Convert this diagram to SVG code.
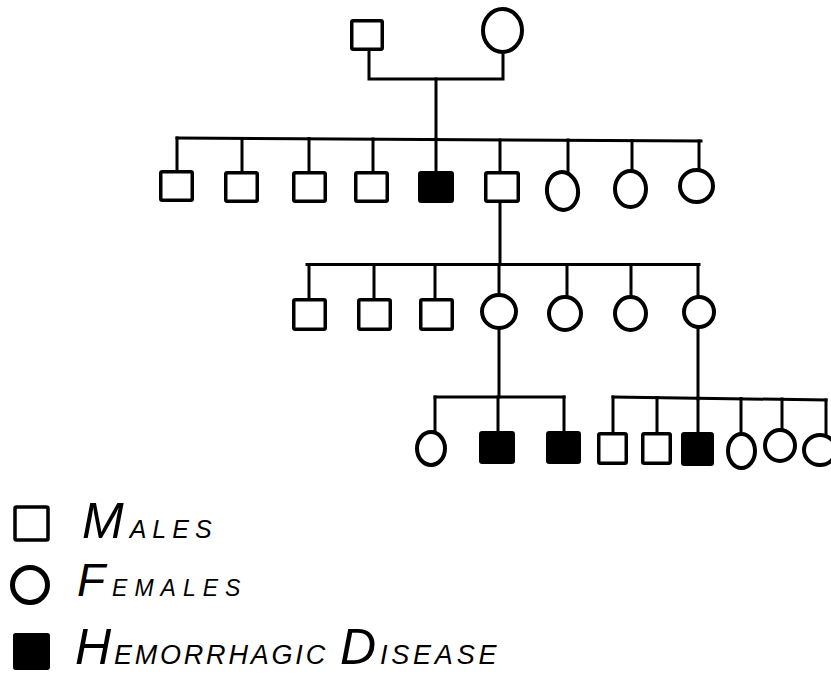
<svg xmlns="http://www.w3.org/2000/svg" width="831" height="675" viewBox="0 0 831 675">
<style>
.bg{fill:#fff}
.ln{fill:none;stroke:#000;stroke-width:3;stroke-linecap:square;stroke-linejoin:miter}
.m{fill:#fff;stroke:#000;stroke-width:3.5}
.a{fill:#000;stroke:#000;stroke-width:3.5}
.f{fill:#fff;stroke:#000;stroke-width:4}
.t{font-family:"Liberation Sans",Arial,sans-serif;font-style:italic;fill:#000}
</style>
<rect class="bg" x="0" y="0" width="831" height="675"/>
<g id="connectors">
<path class="ln" d="M369,51 V79 H503 V54"/>
<path class="ln" d="M436,79 V139"/>
<path class="ln" d="M177,138 L701,141"/>
<path class="ln" d="M177,138 V171 M242,138.5 V171 M309,138.5 V171 M373,139 V171 M436,139 V171 M500,140 V171 M568,140 V172 M632,140.5 V171 M699,141 V170"/>
<path class="ln" d="M500,203 V264"/>
<path class="ln" d="M307,264.5 H699"/>
<path class="ln" d="M309,264.5 V298 M374,264.5 V298 M435,264.5 V298 M499,264.5 V295 M567,264.5 V297 M631,264.5 V297 M698,264.5 V297"/>
<path class="ln" d="M499,330 V397 M698,329 V399"/>
<path class="ln" d="M435,397 H564"/>
<path class="ln" d="M435,397 V432 M498,397 V431 M564,397 V431"/>
<path class="ln" d="M613,397 L826,400"/>
<path class="ln" d="M613,397 V432 M657,397.5 V432 M698,398 V432 M741,398.5 V434 M782,399 V430 M826,400 V435"/>
</g>
<g id="I-1"><rect class="m" x="351.75" y="20.75" width="30.5" height="28.5" rx="1.5"/></g>
<g id="I-2"><ellipse class="f" cx="502.5" cy="30.5" rx="19.5" ry="21.5"/></g>
<g id="II-1"><rect class="m" x="160.75" y="171.75" width="31.5" height="28.5" rx="1.5"/></g>
<g id="II-2"><rect class="m" x="225.75" y="172.75" width="31.5" height="28.5" rx="1.5"/></g>
<g id="II-3"><rect class="m" x="293.75" y="172.75" width="31.5" height="28.5" rx="1.5"/></g>
<g id="II-4"><rect class="m" x="355.75" y="172.75" width="31.5" height="28.5" rx="1.5"/></g>
<g id="II-5"><rect class="a" x="419.75" y="172.75" width="32.5" height="28.5" rx="1.5"/></g>
<g id="II-6"><rect class="m" x="485.75" y="172.75" width="32.5" height="28.5" rx="1.5"/></g>
<g id="II-7"><ellipse class="f" cx="562.5" cy="191" rx="15.5" ry="19" transform="rotate(-8 562.5 191)"/></g>
<g id="II-8"><ellipse class="f" cx="630.5" cy="189" rx="15.5" ry="18"/></g>
<g id="II-9"><ellipse class="f" cx="696.5" cy="186" rx="16.5" ry="16"/></g>
<g id="III-1"><rect class="m" x="293.75" y="299.75" width="31.5" height="29.5" rx="1.5"/></g>
<g id="III-2"><rect class="m" x="358.75" y="299.75" width="31.5" height="29.5" rx="1.5"/></g>
<g id="III-3"><rect class="m" x="420.75" y="299.75" width="31.5" height="29.5" rx="1.5"/></g>
<g id="III-4"><ellipse class="f" cx="499" cy="311.5" rx="17" ry="16.5"/></g>
<g id="III-5"><ellipse class="f" cx="565" cy="313.5" rx="16" ry="16.5"/></g>
<g id="III-6"><ellipse class="f" cx="630.5" cy="313.5" rx="15.5" ry="16.5"/></g>
<g id="III-7"><ellipse class="f" cx="699" cy="312" rx="15" ry="15"/></g>
<g id="IV-1"><ellipse class="f" cx="431" cy="448.5" rx="14" ry="16.5"/></g>
<g id="IV-2"><rect class="a" x="480.75" y="432.75" width="32.5" height="29.5" rx="1.5"/></g>
<g id="IV-3"><rect class="a" x="547.75" y="432.75" width="31.5" height="29.5" rx="1.5"/></g>
<g id="IV-4"><rect class="m" x="598.75" y="433.75" width="27.5" height="29.5" rx="1.5"/></g>
<g id="IV-5"><rect class="m" x="642.75" y="433.75" width="27.5" height="29.5" rx="1.5"/></g>
<g id="IV-6"><rect class="a" x="682.75" y="433.75" width="29.5" height="30.5" rx="1.5"/></g>
<g id="IV-7"><ellipse class="f" cx="741.5" cy="451" rx="13.5" ry="17"/></g>
<g id="IV-8"><ellipse class="f" cx="780" cy="445.5" rx="15" ry="15.5"/></g>
<g id="IV-9"><ellipse class="f" cx="820" cy="450" rx="16" ry="15"/></g>
<g id="legend">
<g id="legend-males">
<rect class="m" x="15" y="507" width="33" height="33" rx="1.5"/>
<text class="t" x="82" y="538" style="letter-spacing:6px"><tspan font-size="50">M</tspan><tspan font-size="25">ALES</tspan></text>
</g>
<g id="legend-females">
<ellipse class="f" cx="30" cy="585" rx="17.5" ry="17.5" style="stroke-width:5"/>
<text class="t" x="77" y="596" style="letter-spacing:7px"><tspan font-size="46">F</tspan><tspan font-size="23">EMALES</tspan></text>
</g>
<g id="legend-disease">
<rect class="a" x="14.75" y="634.75" width="33.5" height="33.5" rx="1"/>
<text class="t" x="75" y="664" style="letter-spacing:2.8px"><tspan font-size="50">H</tspan><tspan font-size="27">EMORRHAGIC </tspan><tspan x="340" font-size="50" style="letter-spacing:3.8px">D</tspan><tspan font-size="27" style="letter-spacing:3.8px">ISEASE</tspan></text>
</g>
</g>
</svg>
